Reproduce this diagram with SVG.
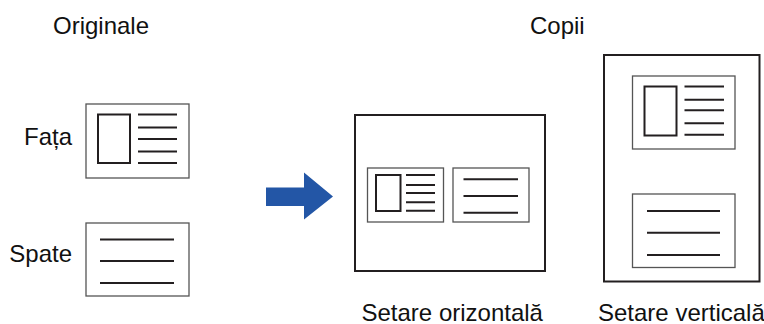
<svg xmlns="http://www.w3.org/2000/svg" width="764" height="324" viewBox="0 0 764 324">
<style>
text{font-family:"Liberation Sans",Arial,sans-serif;font-size:24px;fill:#111}
.page{fill:#fff;stroke:#231f20;stroke-width:2}
.card{fill:#fff;stroke:#555;stroke-width:1.3}
.pic{fill:none;stroke:#231f20;stroke-width:2}
.ln{stroke:#231f20;stroke-width:2}
</style>
<rect width="764" height="324" fill="#fff"/>
<g id="labels">
<text x="53" y="34">Originale</text>
<text x="530" y="34">Copii</text>
<text x="72" y="145" text-anchor="end">Fața</text>
<text x="72" y="262" text-anchor="end">Spate</text>
<text x="361.5" y="321">Setare orizontală</text>
<text x="598" y="321">Setare verticală</text>
</g>
<g id="front">
<rect class="card" x="86" y="104" width="103" height="74"/>
<rect class="pic" x="98" y="114.5" width="32" height="48.5"/>
<path class="ln" d="M138 114.5H177M138 127.5H177M138 139H177M138 151.5H177M138 163H177"/>
</g>
<g id="back">
<rect class="card" x="86" y="223" width="103" height="73"/>
<path class="ln" d="M100 239.5H174M100 261H174M100 283H174"/>
</g>
<g id="connectors">
<polygon fill="#2356a6" points="266,187.5 304,187.5 304,172.5 333,196.5 304,219.5 304,206 266,206"/>
</g>
<g id="horizontal">
<rect class="page" x="355" y="115" width="190" height="156"/>
<rect class="card" x="367.5" y="168" width="76" height="54"/>
<rect class="pic" x="376" y="175" width="24.5" height="36"/>
<path class="ln" d="M406 175H435M406 185H435M406 193H435M406 202.3H435M406 210.7H435"/>
<rect class="card" x="453" y="168" width="76" height="54"/>
<path class="ln" d="M463.5 179.3H518M463.5 196H518M463.5 212.7H518"/>
</g>
<g id="vertical">
<rect class="page" x="604" y="55" width="155.5" height="226.5"/>
<rect class="card" x="632.5" y="76" width="102.5" height="73"/>
<rect class="pic" x="644.5" y="86.5" width="32" height="49"/>
<path class="ln" d="M684.5 86.5H724M684.5 99.7H724M684.5 110.3H724M684.5 123.3H724M684.5 134.7H724"/>
<rect class="card" x="632.5" y="194" width="102.5" height="73.5"/>
<path class="ln" d="M647 211H720M647 232.7H720M647 255H720"/>
</g>
</svg>
